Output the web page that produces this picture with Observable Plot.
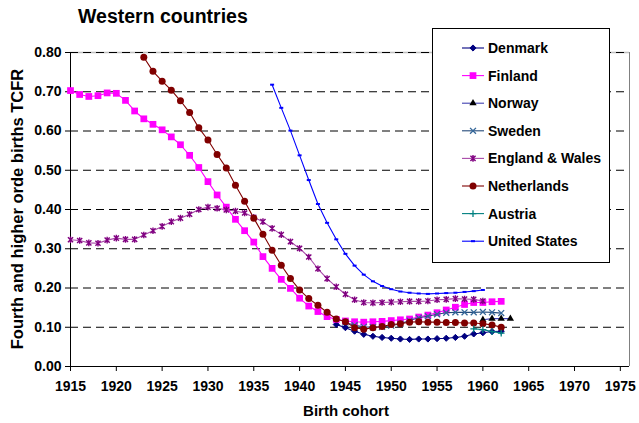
<!DOCTYPE html>
<html><head><meta charset="utf-8">
<script src="https://cdn.jsdelivr.net/npm/d3@7"></script>
<script src="https://cdn.jsdelivr.net/npm/@observablehq/plot@0.6"></script>
<style>
body{margin:0;background:#fff;}
#wrap{position:relative;width:639px;height:423px;font-family:"Liberation Sans",Arial,sans-serif;color:#000;}
#wrap svg.plot{position:absolute;left:0;top:0;}
.ttl{position:absolute;font-weight:bold;white-space:nowrap;}
#title{left:78px;top:5px;font-size:19.5px;}
#xtitle{left:0;width:692px;top:402px;font-size:15px;text-align:center;}
#ytitle{left:17px;top:209px;font-size:16.5px;transform:translate(-50%,-50%) rotate(-90deg);}
#legend{position:absolute;left:432px;top:28px;width:176px;height:233px;border:1px solid #000;background:#fff;}
</style></head><body>
<div id="wrap">
<div class="ttl" id="title">Western countries</div>
<div class="ttl" id="xtitle">Birth cohort</div>
<div class="ttl" id="ytitle">Fourth and higher orde births TCFR</div>
</div>
<script>
// ---- data ----
const countries = ["Denmark","Finland","Norway","Sweden","England & Wales","Netherlands","Austria","United States"];
const startYears = [1944, 1915, 1960, 1945, 1915, 1923, 1959, 1937];

const denmark = [0.107,0.099,0.090,0.082,0.077,0.074,0.072,0.070,0.069,0.070,0.070,0.071,0.072,0.074,0.077,0.083,0.086,0.089,0.090];
const finland = [0.703,0.693,0.688,0.690,0.697,0.696,0.678,0.651,0.631,0.617,0.603,0.585,0.565,0.538,0.507,0.471,0.437,0.406,0.375,0.346,0.317,0.280,0.250,0.222,0.199,0.174,0.154,0.140,0.127,0.120,0.116,0.114,0.113,0.114,0.115,0.117,0.119,0.121,0.126,0.131,0.137,0.144,0.151,0.158,0.163,0.163,0.165,0.166];
const norway = [0.119,0.122,0.122,0.122];
const sweden = [0.112,0.105,0.101,0.100,0.101,0.104,0.109,0.117,0.124,0.128,0.133,0.137,0.138,0.138,0.138,0.139,0.138,0.136];
const englandWales = [0.323,0.321,0.315,0.314,0.322,0.327,0.324,0.324,0.335,0.346,0.357,0.369,0.378,0.388,0.400,0.406,0.403,0.399,0.396,0.391,0.380,0.369,0.352,0.336,0.318,0.301,0.279,0.249,0.224,0.203,0.184,0.170,0.163,0.162,0.163,0.164,0.165,0.166,0.166,0.167,0.170,0.171,0.173,0.172,0.171,0.167];
const netherlands = [0.788,0.752,0.727,0.704,0.677,0.647,0.608,0.577,0.540,0.506,0.462,0.421,0.378,0.337,0.296,0.258,0.224,0.195,0.173,0.156,0.138,0.121,0.114,0.099,0.095,0.099,0.102,0.107,0.109,0.113,0.114,0.113,0.113,0.112,0.112,0.111,0.111,0.109,0.106,0.100];
const austria = [0.096,0.094,0.089,0.085];
const unitedStates = [0.718,0.659,0.601,0.538,0.475,0.414,0.366,0.324,0.287,0.257,0.234,0.217,0.205,0.197,0.191,0.188,0.186,0.185,0.186,0.187,0.188,0.190,0.192,0.195];

const xTicks = [1915,1920,1925,1930,1935,1940,1945,1950,1955,1960,1965,1970,1975];
const yTicks = [0,0.1,0.2,0.3,0.4,0.5,0.6,0.7,0.8];

// ---- styling ----
const seriesValues = [denmark, finland, norway, sweden, englandWales, netherlands, austria, unitedStates];
const lineColors = ["#000080","#FF00FF","#4040B0","#244A7A","#A848A8","#800000","#008080","#0000FF"];
const markColors = ["#000080","#FF00FF","#000000","#336699","#800080","#800000","#008080","#0000FF"];

const diamondSym = {draw(c,s){const r=Math.sqrt(s/Math.PI)*1.1;c.moveTo(0,-r);c.lineTo(r,0);c.lineTo(0,r);c.lineTo(-r,0);c.closePath();}};
const asteriskSym = {draw(c,s){const r=Math.sqrt(s/Math.PI);const d=r*0.78;c.moveTo(0,-r);c.lineTo(0,r);c.moveTo(-d,-d);c.lineTo(d,d);c.moveTo(-d,d);c.lineTo(d,-d);}};
const dashSym = {draw(c,s){const r=Math.sqrt(s/Math.PI);c.moveTo(-r,0);c.lineTo(r,0);}};
const markers = [
  {sym: diamondSym, r: 2.8, filled: true, sw: 1},
  {sym: d3.symbolSquare, r: 3.8, filled: true, sw: 0},
  {sym: d3.symbolTriangle, r: 2.7, filled: true, sw: 0},
  {sym: d3.symbolTimes, r: 2.8, filled: false, sw: 1.3},
  {sym: asteriskSym, r: 3.3, filled: false, sw: 1.4},
  {sym: d3.symbolCircle, r: 3.5, filled: true, sw: 0},
  {sym: d3.symbolPlus, r: 2.3, filled: false, sw: 1.3},
  {sym: dashSym, r: 2.0, filled: false, sw: 2}
];

const seriesRows = seriesValues.map((vals, k) => vals.map((v, i) => ({country: countries[k], year: startYears[k] + i, value: v})));

const marks = [
  Plot.ruleY([0.8], {stroke: "#c0c0c0", strokeWidth: 1.5}),
  Plot.ruleY(yTicks.filter(v => v > 0), {stroke: "#000", strokeDasharray: "8,5", strokeWidth: 1}),
  Plot.ruleX([1976], {y1: 0, y2: 0.8, stroke: "#808080"}),
  Plot.axisY({ticks: yTicks, tickFormat: d => d.toFixed(2), tickSize: 5, tickPadding: 4, label: null}),
  Plot.axisX({ticks: xTicks, tickFormat: d => String(d), tickSize: 5, tickPadding: 10, label: null}),
  Plot.ruleY([0], {stroke: "#000"}),
  Plot.ruleX([1915], {y1: 0, y2: 0.8, stroke: "#000"})
];
seriesRows.forEach((rows, k) => {
  const m = markers[k];
  marks.push(Plot.line(rows, {x: "year", y: "value", stroke: lineColors[k], strokeWidth: 1.1}));
  marks.push(Plot.dot(rows, {x: "year", y: "value", symbol: m.sym, r: m.r,
    fill: m.filled ? markColors[k] : "none", stroke: markColors[k], strokeWidth: m.filled ? (m.sw || 0.01) : m.sw}));
});

const chart = Plot.plot({
  width: 639, height: 423,
  marginLeft: 70, marginRight: 10, marginTop: 52, marginBottom: 57,
  x: {domain: [1915, 1976]},
  y: {domain: [0, 0.8]},
  style: {fontFamily: "'Liberation Sans', Arial, sans-serif", fontSize: "14px", fontWeight: "bold", color: "#000", background: "transparent", overflow: "visible"},
  marks
});
chart.classList.add("plot");
const wrap = document.getElementById("wrap");
wrap.insertBefore(chart, wrap.firstChild);

// ---- legend ----
const leg = d3.select(wrap).append("div").attr("id", "legend");
const lsvg = leg.append("svg").attr("width", 176).attr("height", 233)
  .style("font-family", "'Liberation Sans', Arial, sans-serif").style("font-weight", "bold").style("font-size", "14px");
countries.forEach((name, k) => {
  const cy = 19 + k * 27.6;
  const g = lsvg.append("g").attr("transform", `translate(0,${cy})`);
  g.append("line").attr("x1", 29).attr("x2", 51).attr("y1", 0).attr("y2", 0).attr("stroke", lineColors[k]).attr("stroke-width", 1.1);
  const m = markers[k];
  g.append("path").attr("transform", "translate(40,0)")
    .attr("d", d3.symbol(m.sym, m.r * m.r * Math.PI)())
    .attr("fill", m.filled ? markColors[k] : "none")
    .attr("stroke", markColors[k]).attr("stroke-width", m.filled ? (m.sw || 0) : m.sw);
  g.append("text").attr("x", 55).attr("y", 0).attr("dy", "0.35em").text(name);
});
</script>
</body></html>
